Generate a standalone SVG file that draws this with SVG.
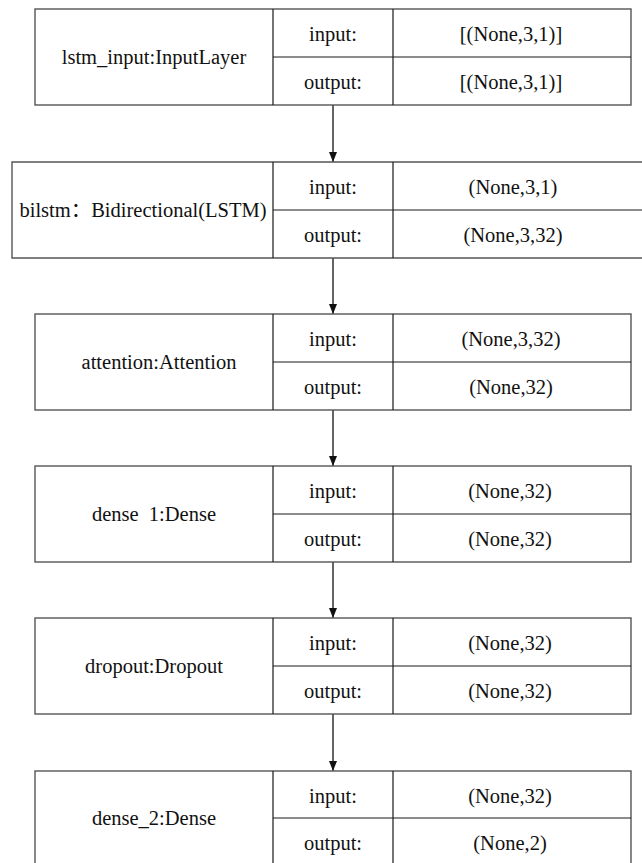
<svg xmlns="http://www.w3.org/2000/svg" width="642" height="863" viewBox="0 0 642 863">
<style>
.box{fill:#fff;stroke:#555;stroke-width:1.4}
.div{stroke:#1a1a1a;stroke-width:1.2;fill:none}
text{font-family:"Liberation Serif",Tinos,"Times New Roman","DejaVu Serif",serif;font-size:20.5px;fill:#111;text-anchor:middle;dominant-baseline:central}
text.cjk{font-family:"Liberation Serif",Tinos,"Times New Roman","Noto Sans CJK SC",serif}
.edge{stroke:#111;stroke-width:1.3;fill:none;marker-end:url(#ah)}
</style>
<defs>
<marker id="ah" viewBox="0 0 10 8" refX="10" refY="4" markerWidth="10" markerHeight="8" markerUnits="userSpaceOnUse" orient="auto">
<path d="M0,0 L10,4 L0,8 Z" fill="#111"/>
</marker>
</defs>
<rect width="642" height="863" fill="#fff"/>
<g id="connectors">
<line class="edge" x1="333" y1="105" x2="333" y2="162"/>
<line class="edge" x1="333" y1="258" x2="333" y2="314"/>
<line class="edge" x1="333" y1="410" x2="333" y2="466"/>
<line class="edge" x1="333" y1="562" x2="333" y2="618"/>
<line class="edge" x1="333" y1="714" x2="333" y2="771"/>
</g>
<g id="lstm_input">
<rect class="box" x="35" y="9" width="596" height="96"/>
<path class="div" d="M273,9 V105 M393,9 V105 M273,57 H631"/>
<text x="154" y="57">lstm_input:InputLayer</text>
<text x="333" y="34">input:</text>
<text x="333" y="82">output:</text>
<text x="511" y="34">[(None,3,1)]</text>
<text x="511" y="82">[(None,3,1)]</text>
</g>
<g id="bilstm">
<path class="box" d="M642,162 H12 V258 H642"/>
<path class="div" d="M273,162 V258 M393,162 V258 M273,210 H642"/>
<text class="cjk" x="143" y="210">bilstm：Bidirectional(LSTM)</text>
<text x="333" y="187">input:</text>
<text x="333" y="235">output:</text>
<text x="513" y="187">(None,3,1)</text>
<text x="513" y="235">(None,3,32)</text>
</g>
<g id="attention">
<rect class="box" x="35" y="314" width="596" height="96"/>
<path class="div" d="M273,314 V410 M393,314 V410 M273,362 H631"/>
<text x="159" y="362">attention:Attention</text>
<text x="333" y="339">input:</text>
<text x="333" y="387">output:</text>
<text x="511" y="339">(None,3,32)</text>
<text x="511" y="387">(None,32)</text>
</g>
<g id="dense_1">
<rect class="box" x="35" y="466" width="596" height="96"/>
<path class="div" d="M273,466 V562 M393,466 V562 M273,514 H631"/>
<text x="154" y="514" xml:space="preserve">dense  1:Dense</text>
<text x="333" y="491">input:</text>
<text x="333" y="539">output:</text>
<text x="510" y="491">(None,32)</text>
<text x="510" y="539">(None,32)</text>
</g>
<g id="dropout">
<rect class="box" x="35" y="618" width="596" height="96"/>
<path class="div" d="M273,618 V714 M393,618 V714 M273,666 H631"/>
<text x="154" y="666">dropout:Dropout</text>
<text x="333" y="643">input:</text>
<text x="333" y="691">output:</text>
<text x="510" y="643">(None,32)</text>
<text x="510" y="691">(None,32)</text>
</g>
<g id="dense_2">
<rect class="box" x="35" y="771" width="596" height="100"/>
<path class="div" d="M273,771 V863 M393,771 V863 M273,818 H631"/>
<text x="154" y="818">dense_2:Dense</text>
<text x="333" y="796">input:</text>
<text x="333" y="843">output:</text>
<text x="510" y="796">(None,32)</text>
<text x="510" y="843">(None,2)</text>
</g>
</svg>
